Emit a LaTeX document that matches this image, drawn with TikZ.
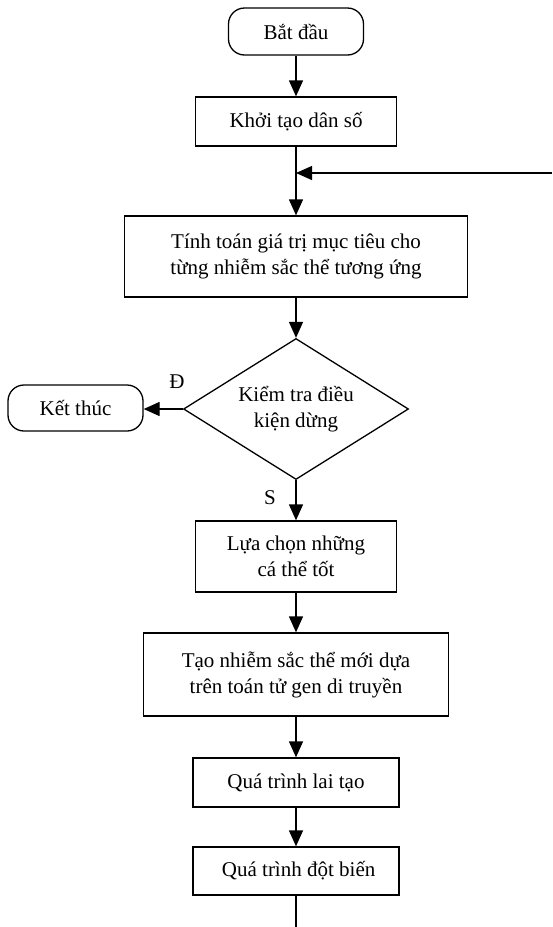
\documentclass[tikz,border=0pt]{standalone}
\usepackage{fontspec}
\setmainfont{Liberation Serif}
\usetikzlibrary{arrows.meta,shapes.geometric,calc}

\begin{document}
\begin{tikzpicture}[x=1pt,y=-1pt,line width=1.3pt,
			font=\fontsize{21}{26}\selectfont,
			>={Triangle[length=16pt,width=14pt]},
			box/.style={draw,rectangle,align=center,inner sep=0pt},
			term/.style={box,rounded corners=16pt},
			cond/.style={draw,diamond,align=center,inner sep=0pt,aspect=1.6}]
			\useasboundingbox (0,0) rectangle (552,927);
			\node[term,minimum width=135,minimum height=47] (start) at (296,31.5) {Bắt đầu};
			\node[box,minimum width=201,minimum height=49] (init) at (296,121.5) {Khởi tạo dân số};
			\node[box,minimum width=343,minimum height=81] (eval) at (296,256.5) {Tính toán giá trị mục tiêu cho\\từng nhiễm sắc thể tương ứng};
			\node[cond,minimum width=225,minimum height=141] (check) at (296,409) {Kiểm tra điều\\kiện dừng};
			\node[term,minimum width=135,minimum height=46] (stop) at (75.5,408) {Kết thúc};
			\node[box,minimum width=201,minimum height=71] (select) at (296,556.5) {Lựa chọn những\\cá thể tốt};
			\node[box,minimum width=305,minimum height=83] (gen) at (296,674.5) {Tạo nhiễm sắc thể mới dựa\\trên toán tử gen di truyền};
			\node[box,minimum width=206,minimum height=49] (cross) at (296,782.5) {Quá trình lai tạo};
			\node[box,minimum width=206,minimum height=48] (mutate) at (296,871) {\ Quá trình đột biến};
			\coordinate (back) at (552,173);
			\coordinate (out) at (296,927);
			\node (yes) at (177,382) {Đ};
			\node (no) at (270,498) {S};
			\draw[->] (start) -- (init);
			\draw[->] (init) -- (eval);
			\draw[->] (back) -- (back -| init.south);
			\draw[->] (eval) -- (check);
			\draw[->] (check.west) -- (stop.east |- check.west);
			\draw[->] (check) -- (select);
			\draw[->] (select) -- (gen);
			\draw[->] (gen) -- (cross);
			\draw[->] (cross) -- (mutate);
			\draw (mutate) -- (out);
		\end{tikzpicture}
\end{document}
